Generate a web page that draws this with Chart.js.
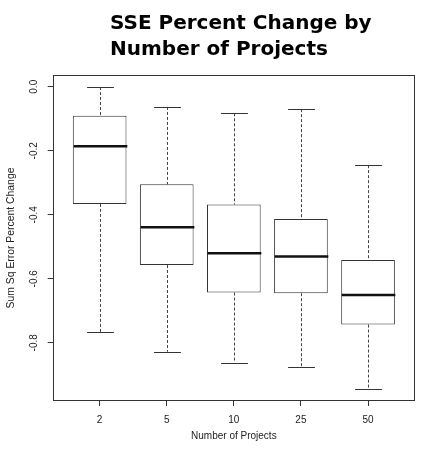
<!DOCTYPE html>
<html><head><meta charset="utf-8">
<script src="https://cdn.jsdelivr.net/npm/chart.js@4"></script>
<style>html,body{margin:0;padding:0;background:#fff}</style>
</head><body>
<canvas id="c" width="421" height="454"></canvas>
<script>
const titleLines = ['SSE Percent Change by', 'Number of Projects'];
const categories = ['2', '5', '10', '25', '50'];
const whiskerHigh = [-0.001, -0.063, -0.083, -0.070, -0.245];
const boxUpper    = [-0.091, -0.305, -0.368, -0.413, -0.541];
const medians     = [-0.186, -0.439, -0.520, -0.530, -0.651];
const boxLower    = [-0.366, -0.557, -0.643, -0.645, -0.743];
const whiskerLow  = [-0.766, -0.828, -0.862, -0.875, -0.944];
const yTickValues = [0, -0.2, -0.4, -0.6, -0.8];
const yTickLabels = ['0.0', '-0.2', '-0.4', '-0.6', '-0.8'];
const xAxisTitle = 'Number of Projects';
const yAxisTitle = 'Sum Sq Error Percent Change';

Chart.defaults.font.family = '"Liberation Sans", Arial, sans-serif';
Chart.defaults.font.size = 10;
Chart.defaults.color = '#222';

const boxParts = {
  id: 'boxParts',
  afterDatasetsDraw(chart) {
    const {ctx, scales: {x, y}} = chart;
    const bars = chart.getDatasetMeta(0).data;
    ctx.save();
    categories.forEach((c, i) => {
      const cx = Math.round(x.getPixelForValue(i)) + 0.5;
      const half = bars[i].width / 2;
      const cap = half / 2;
      ctx.strokeStyle = '#444'; ctx.lineWidth = 1; ctx.setLineDash([3, 2]);
      ctx.beginPath();
      ctx.moveTo(cx, y.getPixelForValue(whiskerHigh[i])); ctx.lineTo(cx, y.getPixelForValue(boxUpper[i]));
      ctx.moveTo(cx, y.getPixelForValue(boxLower[i])); ctx.lineTo(cx, y.getPixelForValue(whiskerLow[i]));
      ctx.stroke();
      ctx.setLineDash([]);
      ctx.strokeStyle = '#333';
      const yh = Math.round(y.getPixelForValue(whiskerHigh[i])) + 0.5;
      const yl = Math.round(y.getPixelForValue(whiskerLow[i])) + 0.5;
      ctx.beginPath();
      ctx.moveTo(cx - cap, yh); ctx.lineTo(cx + cap, yh);
      ctx.moveTo(cx - cap, yl); ctx.lineTo(cx + cap, yl);
      ctx.stroke();
      ctx.lineWidth = 2.5; ctx.strokeStyle = '#111';
      const ym = y.getPixelForValue(medians[i]);
      ctx.beginPath(); ctx.moveTo(cx - half, ym); ctx.lineTo(cx + half, ym); ctx.stroke();
    });
    const a = chart.chartArea;
    ctx.lineWidth = 1; ctx.strokeStyle = '#333';
    const l = Math.round(a.left) + 0.5, t = Math.round(a.top) + 0.5;
    const r = Math.round(a.right) - 0.5, b = Math.round(a.bottom) - 0.5;
    ctx.strokeRect(l, t, r - l, b - t);
    ctx.restore();
  },
  afterDraw(chart) {
    const ctx = chart.ctx;
    ctx.save();
    ctx.font = 'bold 20px "DejaVu Sans", Verdana, sans-serif';
    ctx.fillStyle = '#000';
    ctx.textAlign = 'left';
    ctx.textBaseline = 'alphabetic';
    ctx.fillText(titleLines[0], 110, 29);
    ctx.fillText(titleLines[1], 110, 55);
    ctx.restore();
  }
};

new Chart(document.getElementById('c'), {
  type: 'bar',
  data: {
    datasets: [{
      data: categories.map((c, i) => ({x: i, y: [boxLower[i], boxUpper[i]]})),
      backgroundColor: '#fff',
      borderColor: '#333',
      borderWidth: 1,
      borderSkipped: false,
      barPercentage: 0.8,
      categoryPercentage: 1.0
    }]
  },
  options: {
    responsive: false,
    animation: false,
    layout: {padding: {top: 75, right: 6, bottom: 12, left: 0}},
    plugins: {legend: {display: false}, tooltip: {enabled: false}, title: {display: false}},
    scales: {
      x: {
        type: 'linear', min: -0.7, max: 4.7, offset: false,
        afterBuildTicks: (axis) => { axis.ticks = categories.map((c, i) => ({value: i})); },
        grid: {drawOnChartArea: false, drawTicks: true, tickLength: 5, tickColor: '#333', offset: false},
        border: {display: false},
        ticks: {padding: 8, maxRotation: 0, autoSkip: false, callback: (v) => categories[v]},
        title: {display: true, text: xAxisTitle, padding: {top: -4, bottom: 0}}
      },
      y: {
        type: 'linear', min: -0.9818, max: 0.0367,
        afterBuildTicks: (axis) => { axis.ticks = yTickValues.map(v => ({value: v})); },
        grid: {drawOnChartArea: false, drawTicks: true, tickLength: 5, tickColor: '#333'},
        border: {display: false},
        ticks: {padding: 4.7, minRotation: 90, maxRotation: 90, crossAlign: 'center', autoSkip: false,
                callback: (v) => yTickLabels[yTickValues.indexOf(v)]},
        title: {display: true, text: yAxisTitle, font: {size: 10.4}, padding: {top: 4.8, bottom: 9}}
      }
    }
  },
  plugins: [boxParts]
});
</script>
</body></html>
